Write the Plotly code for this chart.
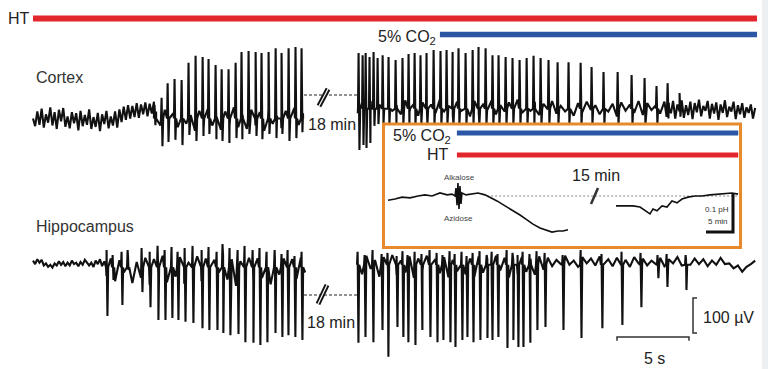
import numpy as np
import plotly.graph_objects as go

# ======================= DATA =======================
# Treatment periods in the main recording (display time, s)
ht_period_s = [0.0, 50.28]
co2_period_s = [28.26, 50.28]
# Treatment periods in the pH inset (display time, min)
inset_co2_period_min = [13.5, 65.6]
inset_ht_period_min = [13.5, 65.6]

# ---- Cortex, before the 18-min gap ----
ctx1_quiet_t0, ctx1_quiet_dt = 0.0, 0.15
ctx1_quiet_uv = [-10, -32, 10, -28, 18, -36, 2, -22, 22, -30,
                 8, -40, 15, -18, 20, -34, -4, -38, 8, -24,
                 5, -44, 12, -32, 0, -28, 16, -40, -6, -34,
                 6, -46, 2, -26, 12, -38, -4, -30, 10, -36,
                 16, -20, 24, -14, 28, -10, 26, -6, 34, -8,
                 30, 2, 36, -4, 32, 4, 38]
ctx1_active_t0, ctx1_active_dt = 8.55, 0.3
ctx1_active_uv = [10, -30, 15, -40, 5, -35, 20, -25, 0, -45,
                  12, -38, 18, -30, -5, -42, 10, -28, 22, -35,
                  0, -40, 15, -30, 8, -45, 18, -25, -2, -38,
                  12, -32, 20, -28, 5]
ctx1_level_uv = -10
ctx1_spike_s = [8.47, 8.96, 9.38, 9.86, 10.35, 10.83, 11.32, 11.81, 12.22, 12.71,
                13.13, 13.61, 14.10, 14.51, 15.00, 15.49, 15.90, 16.39, 16.88, 17.29,
                17.78, 18.26, 18.68]
ctx1_spike_top_uv = [29, 49, 91, 103, 100, 149, 169, 166, 160, 143,
                     131, 131, 149, 180, 183, 180, 177, 180, 191, 177,
                     191, 194, 191]
ctx1_spike_bot_uv = [-29, -89, -77, -71, -86, -57, -74, -60, -54, -69,
                     -74, -80, -66, -69, -54, -60, -69, -54, -66, -54,
                     -74, -66, -49]

# ---- Cortex, after the gap (5% CO2) ----
ctx2_active_t0, ctx2_active_dt = 22.55, 0.3
ctx2_active_uv = [5, 35, 0, 40, 10, 30, -5, 38, 12, 28,
                  2, 42, 8, 32, -2, 36, 15, 30, 5, 44,
                  10, 26, 0, 38, 12, 34, -4, 40, 8, 30,
                  14, 42, 2, 28, 10, 36, -2, 44, 6, 30,
                  12, 38, 0, 32, 16, 40, 4, 26, 10, 46,
                  -2, 34, 8, 38, 14, 28, 2, 42, 10, 32,
                  -4, 36, 12, 30, 6, 40, 0, 34, 14, 28,
                  4, 38]
ctx2_quiet_t0, ctx2_quiet_dt = 44.0, 0.15
ctx2_quiet_uv = [-5, 35, 5, 40, -10, 30, 10, 42, -8, 28,
                 0, 38, -12, 34, 8, 44, -4, 26, 12, 40,
                 -10, 32, 4, 36, -14, 30, 6, 42, -6, 24,
                 10, 38, -12, 28, 2, 34, -8, 22, 6, 30,
                 -10, 20]
ctx2_level_uv = 18
ctx2_spike_s = [22.64, 22.92, 23.13, 23.40, 23.68, 23.96, 24.31, 24.72, 25.21, 25.69,
                26.11, 26.53, 26.94, 27.36, 27.85, 28.33, 28.75, 29.17, 29.58, 30.07,
                30.56, 30.97, 31.46, 31.94, 32.36, 32.85, 33.33, 33.82, 34.31, 34.79,
                35.28, 35.83, 36.46, 37.22, 38.06, 38.82, 39.65, 40.63, 41.60, 42.50,
                43.33, 44.10, 44.93]
ctx2_spike_top_uv = [177, 171, 177, 166, 180, 163, 171, 166, 157, 163,
                     174, 177, 171, 177, 186, 183, 186, 180, 191, 177,
                     186, 194, 191, 171, 171, 166, 163, 157, 163, 169,
                     163, 157, 151, 151, 149, 137, 123, 123, 114, 106,
                     83, 91, 63]
ctx2_spike_bot_uv = [-100, -86, -94, -80, -31, -26, -26, -26, -26, -26,
                     -26, -26, -26, -26, -26, -26, -26, -26, -26, -26,
                     -26, -26, -26, -26, -26, -26, -26, -26, -26, -26,
                     -26, -26, -26, -26, -26, -26, -26, -26, -26, -26,
                     -26, -10, -5]

# ---- Hippocampus, before the gap ----
hip1_quiet_t0, hip1_quiet_dt = 0.0, 0.15
hip1_quiet_uv = [4, -6, 8, -2, 6, -10, -4, -14, -8, -16,
                 -4, -10, 2, -8, 0, -12, -2, -10, 4, -6,
                 -2, -12, 0, -8, 6, -4, -10, -2, -14, 4,
                 -6, 8, -12, 2]
hip1_active_t0, hip1_active_dt = 5.1, 0.3
hip1_active_uv = [-40, 10, -55, 5, -30, 15, -60, 0, -45, 12,
                  -65, 8, -35, 18, -58, 4, -42, 14, -62, -2,
                  -38, 16, -55, 10, -66, 6, -30, 18, -50, 8,
                  -68, 2, -40, 12, -60, 10, -45, 15, -64, 6,
                  -36, 10, -55, 8, -48, 12, -30]
hip1_level_uv = -15
hip1_spike_s = [5.14, 5.56, 6.18, 6.60, 7.57, 8.13, 8.68, 9.17, 9.65, 10.07,
                10.56, 11.11, 11.74, 12.22, 12.78, 13.19, 13.68, 14.24, 14.72, 15.28,
                15.76, 16.25, 16.81, 17.29, 17.71, 18.19, 18.68]
hip1_spike_top_uv = [34, 20, 29, 34, 40, 29, 46, 34, 43, 29,
                     40, 46, 34, 43, 29, 51, 40, 34, 46, 34,
                     40, 29, 34, 23, 34, 17, 29]
hip1_spike_bot_uv = [-154, -51, -123, -23, -86, -129, -166, -166, -160, -166,
                     -171, -174, -189, -194, -194, -203, -209, -206, -229, -231,
                     -237, -229, -203, -214, -209, -214, -223]

# ---- Hippocampus, after the gap ----
hip2_t0, hip2_dt = 22.55, 0.3
hip2_uv = [10, -35, 18, -20, 6, -42, 14, -28, 20, -38,
           4, -30, 16, -45, 10, -25, 18, -40, 8, -32,
           14, -44, 6, -26, 20, -36, 10, -42, 16, -30,
           8, -38, 18, -24, 12, -44, 6, -34, 14, -28,
           10, -36, 16, -22,
           12, -12, 6, -6, 18, -8,
           4, -14, 14, -4, 10, -10, 16, -6, 8, -12,
           12, -8, 6, -14, 14, -4, 10, -10, 4, -6,
           12, -12, 8, -4, 14, -10, 6, -8, 10, -6,
           8, -12, 4, -8, 12, -6, -4, -18, -10, -28,
           -14, -6, 4]
hip2_level_uv = -8
hip2_spike_s = [22.57, 23.06, 23.61, 24.24, 24.65, 25.28, 25.69, 26.04, 26.53, 27.01,
                27.57, 28.06, 28.47, 28.96, 29.31, 29.79, 30.14, 30.56, 31.04, 31.53,
                31.88, 32.29, 32.92, 33.33, 33.68, 34.03, 34.51, 35.00, 35.56, 36.81,
                38.06, 39.51, 40.90, 42.22, 43.40, 44.03, 45.35]
hip2_spike_top_uv = [29, 20, 34, 23, 26, 17, 31, 20, 29, 23,
                     34, 26, 20, 31, 23, 29, 17, 26, 31, 20,
                     29, 23, 34, 26, 20, 29, 23, 31, 26, 20,
                     34, 23, 29, 26, 20, 23, 20]
hip2_spike_bot_uv = [-231, -214, -229, -194, -271, -186, -214, -229, -237, -194,
                     -214, -229, -223, -229, -243, -223, -214, -229, -223, -217,
                     -223, -214, -246, -223, -243, -243, -231, -194, -186, -194,
                     -217, -189, -180, -129, -46, -71, -80]

# ---- Inset: extracellular pH (display time in min, pH change) ----
ph1_min = [0.74, 2.04, 3.33, 4.81, 6.30, 7.59, 8.89, 10.37, 11.67, 12.59,
           13.15, 13.33, 13.52, 13.70, 13.89, 14.07, 14.26, 14.44, 15.19, 16.30,
           17.41, 18.70, 19.63, 20.93, 22.41, 23.70, 25.19, 26.48, 27.59, 28.89,
           30.00, 31.11, 32.22, 33.15, 34.07]
ph1_val = [-0.011, -0.008, -0.003, -0.005, 0.0, 0.003, 0.0, 0.008, 0.003, 0.005,
           0.0, 0.021, -0.024, 0.034, -0.034, 0.026, -0.021, 0.008, 0.003, 0.005,
           0.008, 0.003, -0.003, -0.013, -0.026, -0.037, -0.050, -0.063, -0.074, -0.084,
           -0.089, -0.095, -0.092, -0.092, -0.089]
ph2_min = [42.96, 44.63, 46.11, 47.41, 48.33, 49.26, 49.81, 50.56, 51.48, 52.41,
           53.33, 54.26, 55.19, 56.30, 57.59, 58.89, 60.37, 61.85, 63.15, 64.44, 65.56]
ph2_val = [-0.026, -0.026, -0.026, -0.029, -0.037, -0.047, -0.034, -0.039, -0.026, -0.029,
           -0.013, -0.018, -0.008, -0.003, 0.0, 0.0, 0.003, 0.005, 0.005, 0.008, 0.005]

hip_offset_uv = -420   # vertical offset of the hippocampus trace

# ======================= LAYOUT HELPERS =======================
W, H = 768, 369
FONT = "Liberation Sans, Arial, sans-serif"
RED, BLUE, ORANGE, INK = "#E3262B", "#2B56A5", "#E8892C", "#111111"

def tx(xpx):   # pixel column -> seconds on the main axis
    return (xpx - 33) / 14.4

def vy(ypx):   # pixel row -> µV on the main axis
    return (115 - ypx) / 0.35

def pxx(x):
    return x / W

def pyy(y):
    return 1 - y / H


def build(parts, spk_t, spk_top, spk_bot, level, offset=0.0):
    pts = []
    for t0, dt, vals in parts:
        for i, v in enumerate(vals):
            pts.append((t0 + i * dt, v))
    for t, a, b in zip(spk_t, spk_top, spk_bot):
        pts += [(t - 0.07, level), (t - 0.03, a), (t + 0.03, b), (t + 0.08, level)]
    pts.sort(key=lambda p: p[0])
    return [p[0] for p in pts], [p[1] + offset for p in pts]


cx1, cy1 = build([(ctx1_quiet_t0, ctx1_quiet_dt, ctx1_quiet_uv),
                  (ctx1_active_t0, ctx1_active_dt, ctx1_active_uv)],
                 ctx1_spike_s, ctx1_spike_top_uv, ctx1_spike_bot_uv, ctx1_level_uv)
cx2, cy2 = build([(ctx2_active_t0, ctx2_active_dt, ctx2_active_uv),
                  (ctx2_quiet_t0, ctx2_quiet_dt, ctx2_quiet_uv)],
                 ctx2_spike_s, ctx2_spike_top_uv, ctx2_spike_bot_uv, ctx2_level_uv)
hx1, hy1 = build([(hip1_quiet_t0, hip1_quiet_dt, hip1_quiet_uv),
                  (hip1_active_t0, hip1_active_dt, hip1_active_uv)],
                 hip1_spike_s, hip1_spike_top_uv, hip1_spike_bot_uv, hip1_level_uv, hip_offset_uv)
hx2, hy2 = build([(hip2_t0, hip2_dt, hip2_uv)],
                 hip2_spike_s, hip2_spike_top_uv, hip2_spike_bot_uv, hip2_level_uv, hip_offset_uv)

fig = go.Figure()

def line(x, y, color=INK, width=1.5, dash=None, xa="x", ya="y"):
    fig.add_trace(go.Scatter(x=x, y=y, mode="lines", xaxis=xa, yaxis=ya,
                             line=dict(color=color, width=width, dash=dash),
                             hoverinfo="skip", showlegend=False))

# EEG traces
line(cx1 + [None] + cx2, cy1 + [None] + cy2, width=2.1)
line(hx1 + [None] + hx2, hy1 + [None] + hy2, width=2.1)

# gap dashed lines
line([tx(304), tx(357)], [vy(95), vy(95)], color="#222", width=1, dash="3px,2px")
line([tx(304), tx(357)], [vy(295), vy(295)], color="#222", width=1, dash="3px,2px")

# treatment bars (main)
line(ht_period_s, [vy(18.5)] * 2, color=RED, width=6)
line(co2_period_s, [vy(34.5)] * 2, color=BLUE, width=5.5)

# scale bars (main): 5 s and 100 µV
sb_t, sb_v = tx(617), vy(337)
line([sb_t, sb_t, sb_t + 5, sb_t + 5], [sb_v - 11, sb_v, sb_v, sb_v - 11], color="#333", width=1.5)
vb_t, vb_v = tx(693), vy(333)
line([vb_t + 0.28, vb_t, vb_t, vb_t + 0.28], [vb_v + 100, vb_v + 100, vb_v, vb_v], color="#333", width=1.5)

# inset traces
line(inset_co2_period_min, [(196 - 133) / 380] * 2, color=BLUE, width=5, xa="x2", ya="y2")
line(inset_ht_period_min, [(196 - 155) / 380] * 2, color=RED, width=5, xa="x2", ya="y2")
line([19.1, 65.5], [0, 0], color="#888", width=1, dash="2px,2px", xa="x2", ya="y2")
line(ph1_min, ph1_val, width=1.6, xa="x2", ya="y2")
line(ph2_min, ph2_val, width=1.6, xa="x2", ya="y2")
# inset scale bar: 0.1 pH / 5 min
ib_x, ib_y = (733 - 384) / 5.4, (196 - 232) / 380
line([ib_x - 5, ib_x, ib_x], [ib_y, ib_y, ib_y + 0.1], color="#111", width=3, xa="x2", ya="y2")

# ---------- annotations ----------
def note(text, x, y, size=16, xanchor="center", color="#222"):
    fig.add_annotation(text=text, x=pxx(x), y=pyy(y), xref="paper", yref="paper",
                       showarrow=False, xanchor=xanchor, yanchor="middle",
                       font=dict(size=size, color=color, family=FONT))

note("HT", 19, 18)
note("5% CO<sub>2</sub>", 438, 37, xanchor="right")
note("Cortex", 34, 77, xanchor="left", color="#333")
note("Hippocampus", 34, 226, xanchor="left", color="#333")
note("18 min", 306, 125, xanchor="left")
note("18 min", 305, 322, xanchor="left")
note("5 s", 654, 358)
note("100 µV", 701, 317, xanchor="left")
note("5% CO<sub>2</sub>", 453, 136, xanchor="right")
note("HT", 451, 155, xanchor="right")
note("Alkalose", 459, 178, size=8, color="#444")
note("Azidose", 458, 218, size=8, color="#444")
note("15 min", 596, 176)
note("0.1 pH", 731, 209, size=8, xanchor="right", color="#333")
note("5 min", 730, 221, size=8, xanchor="right", color="#333")

# ---------- shapes ----------
shapes = [
    dict(type="rect", xref="paper", yref="paper", x0=pxx(762), x1=1, y0=0, y1=1,
         fillcolor="#EDF0F3", line=dict(width=0), layer="below"),
    dict(type="rect", xref="paper", yref="paper", x0=pxx(383.5), x1=pxx(740.5),
         y0=pyy(247.5), y1=pyy(124), line=dict(color=ORANGE, width=3), layer="above"),
]
for (x0, y0, x1, y1) in [(319, 106, 328, 89), (318, 304, 327, 285)]:
    shapes.append(dict(type="line", xref="paper", yref="paper", x0=pxx(x0), y0=pyy(y0),
                       x1=pxx(x1), y1=pyy(y1), line=dict(color="#111", width=5)))
    shapes.append(dict(type="line", xref="paper", yref="paper", x0=pxx(x0), y0=pyy(y0),
                       x1=pxx(x1), y1=pyy(y1), line=dict(color="white", width=1.2)))
shapes.append(dict(type="line", xref="paper", yref="paper", x0=pxx(591), y0=pyy(204),
                   x1=pxx(598), y1=pyy(188), line=dict(color="#333", width=2.5)))

fig.update_layout(
    width=W, height=H, margin=dict(l=0, r=0, t=0, b=0),
    paper_bgcolor="white", plot_bgcolor="rgba(0,0,0,0)",
    showlegend=False, shapes=shapes,
    xaxis=dict(domain=[0, 1], range=[tx(0), tx(W)], visible=False, fixedrange=True),
    yaxis=dict(domain=[0, 1], range=[vy(H), vy(0)], visible=False, fixedrange=True),
    xaxis2=dict(domain=[pxx(384), pxx(740)], range=[0, 356 / 5.4], anchor="y2",
                visible=False, fixedrange=True),
    yaxis2=dict(domain=[pyy(247), pyy(125)], range=[(196 - 247) / 380, (196 - 125) / 380],
                anchor="x2", visible=False, fixedrange=True),
)

fig.write_html("out.html", config={"displayModeBar": False},
               post_script="document.body.style.margin='0';document.body.style.overflow='hidden';")
